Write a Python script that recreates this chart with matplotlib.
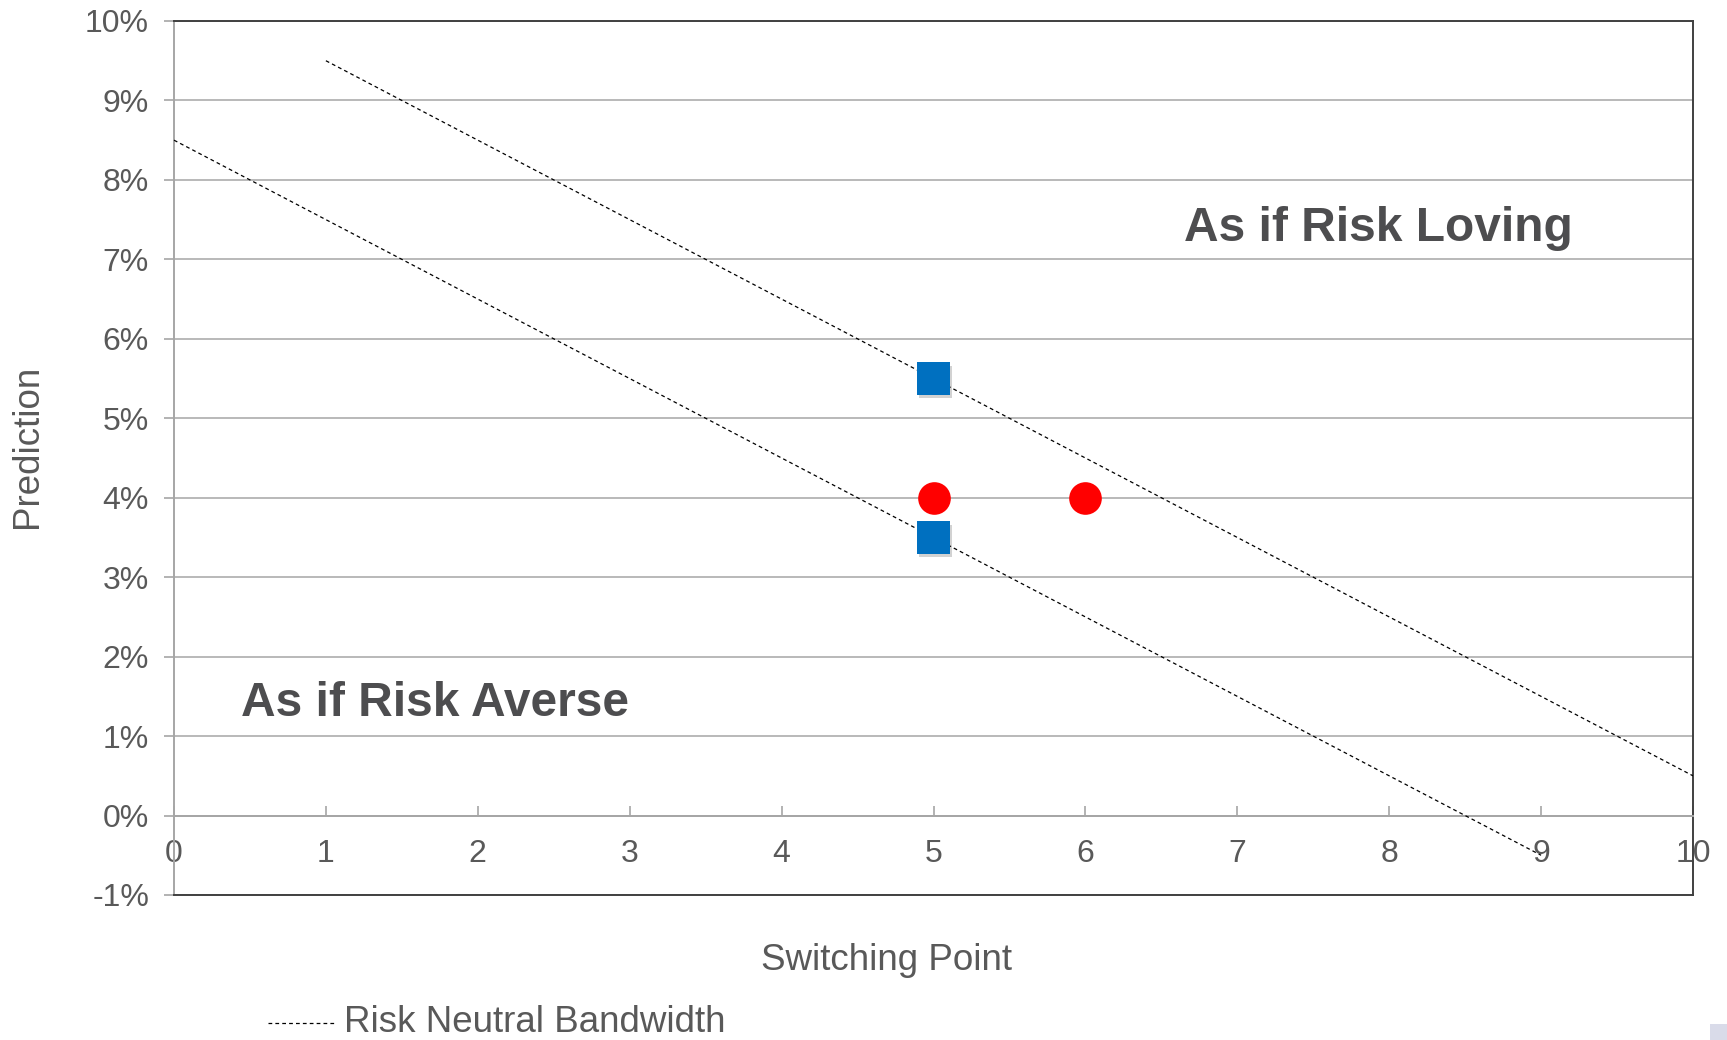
import matplotlib
matplotlib.use("Agg")
import matplotlib.pyplot as plt
import matplotlib.patheffects as pe
from matplotlib.lines import Line2D
from matplotlib.patches import Rectangle
from matplotlib.ticker import FuncFormatter

plt.rcParams['font.family'] = ['Liberation Sans', 'DejaVu Sans']

# Risk-neutral bandwidth bounds (Switching Point vs Prediction %)
upper_x = [1, 10]
upper_y = [9.5, 0.5]
lower_x = [0, 9]
lower_y = [8.5, -0.5]

# Observed points
square_x = [5, 5]
square_y = [5.5, 3.5]
circle_x = [5, 6]
circle_y = [4.0, 4.0]

x_ticks = list(range(1, 11))
y_ticks = list(range(-1, 11))

TEXT = '#595959'
GRID = '#a6a6a6'
FRAME = '#404040'

fig = plt.figure(figsize=(17.27, 10.40), dpi=100)
ax = fig.add_axes([174 / 1727, 145 / 1040, 1519 / 1727, 874 / 1040])
ax.set_xlim(0, 10)
ax.set_ylim(-1, 10)

# horizontal gridlines
for y in y_ticks:
    ax.axhline(y, color=GRID, lw=1.1, zorder=1)

dash = (0, (3, 2.5))
ax.plot(upper_x, upper_y, color='black', lw=0.9, linestyle=dash, zorder=3)
ax.plot(lower_x, lower_y, color='black', lw=0.9, linestyle=dash, zorder=3,
        clip_on=False)

shadow = [pe.SimplePatchShadow(offset=(1.5, -2.5), alpha=0.22, shadow_rgbFace='#333333'),
          pe.Normal()]
ax.plot(square_x, square_y, linestyle='none', marker='s', markersize=23.5,
        color='#0070C0', markeredgewidth=0, zorder=5, path_effects=shadow)
ax.plot(circle_x, circle_y, linestyle='none', marker='o', markersize=23.5,
        color='#FF0000', markeredgewidth=0, zorder=5)

# spines
ax.spines['bottom'].set_position(('data', 0))
ax.spines['bottom'].set_color(GRID)
ax.spines['bottom'].set_linewidth(1.4)
ax.spines['left'].set_color(GRID)
ax.spines['left'].set_linewidth(1.4)
for s in ('top', 'right'):
    ax.spines[s].set_color(FRAME)
    ax.spines[s].set_linewidth(1.4)
ax.plot([0, 10], [-1, -1], color=FRAME, lw=1.4, clip_on=False, zorder=4)

ax.set_yticks(y_ticks)
ax.yaxis.set_major_formatter(FuncFormatter(lambda v, p: f'{v:.0f}%'))
ax.tick_params(axis='y', direction='out', length=7, width=1.2, color=GRID,
               labelsize=23, labelcolor=TEXT, pad=11)

ax.set_xticks([0] + x_ticks)
ax.tick_params(axis='x', direction='in', length=7, width=1.2, color=GRID,
               labelsize=23, labelcolor=TEXT, pad=17)

ax.text(7.93, 7.39, 'As if Risk Loving', fontsize=34.5, fontweight='bold',
        color='#4d4d4f', ha='center', va='center', zorder=6)
ax.text(1.72, 1.41, 'As if Risk Averse', fontsize=34.5, fontweight='bold',
        color='#4d4d4f', ha='center', va='center', zorder=6)

fig.text(28 / 1727, 1 - 446 / 1040, 'Prediction', rotation=90, fontsize=26.5,
         color=TEXT, ha='center', va='center')
fig.text(887 / 1727, 1 - 960 / 1040, 'Switching Point', fontsize=26.5,
         color=TEXT, ha='center', va='center')

# legend entry
fig.add_artist(Line2D([268 / 1727, 336 / 1727], [1 - 1023 / 1040] * 2,
                      color='black', lw=0.9, linestyle=dash))
fig.text(344 / 1727, 1 - 1023 / 1040, 'Risk Neutral Bandwidth', fontsize=26.5,
         color=TEXT, ha='left', va='center')

fig.add_artist(Rectangle((1710 / 1727, 0), 17 / 1727, 16 / 1040,
                         transform=fig.transFigure, color='#d9dbe9', lw=0))

fig.savefig('out.png', dpi=100)
